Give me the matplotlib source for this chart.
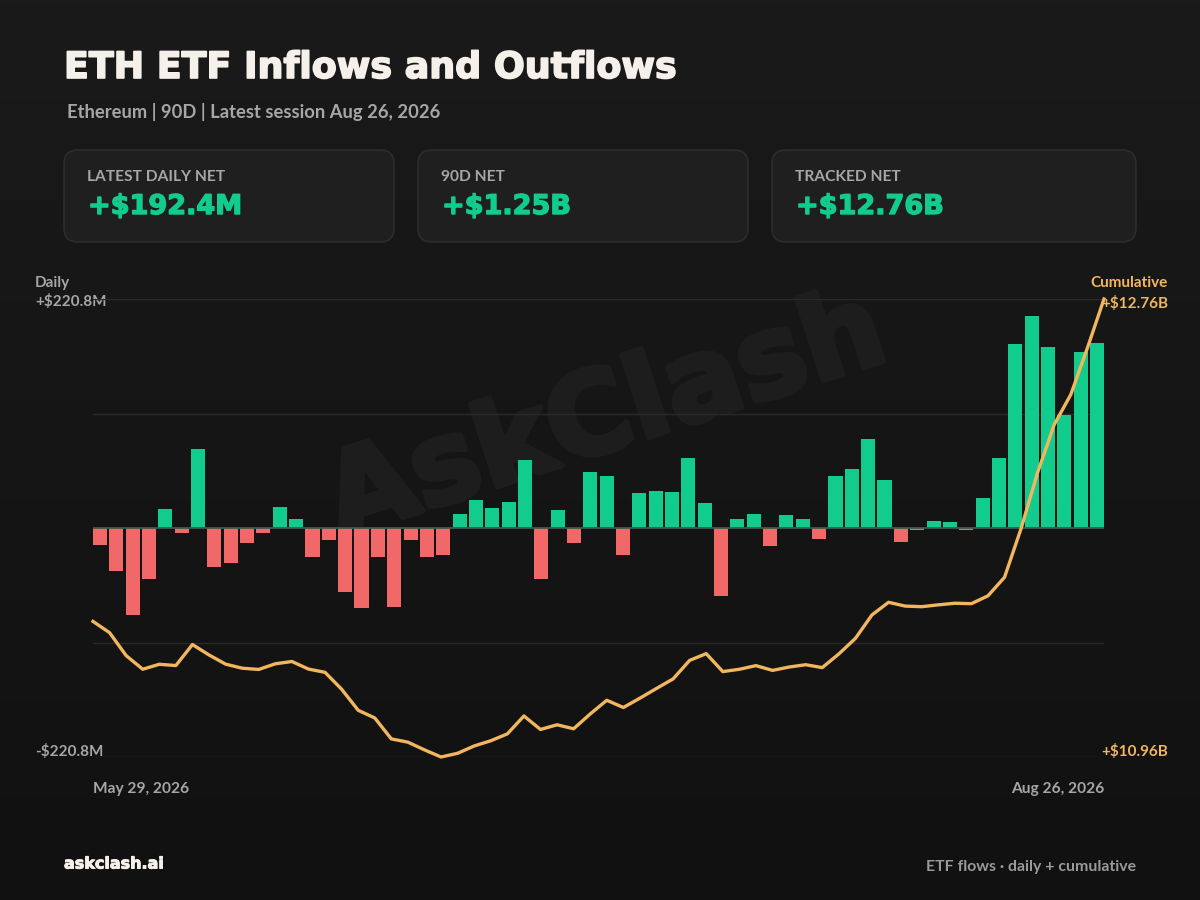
#%%
import numpy as np
import matplotlib
matplotlib.use('Agg')
import matplotlib.pyplot as plt
import matplotlib.patheffects as pe
from matplotlib.patches import FancyBboxPatch
from matplotlib.colors import LinearSegmentedColormap


#%%
#--Data
#daily net flows in $M, oldest session first (May 29 -> Aug 26, 2026)
daily_net = [
    -18.0, -44.3, -90.2, -53.5, 19.4, -4.9, 82.6, -41.0, -36.1, -16.0,
    -4.9, 22.2, 9.1, -29.8, -12.9, -66.3, -82.9, -30.2, -82.3, -12.9,
    -30.2, -28.1, 14.6, 28.8, 20.5, 27.0, 70.5, -53.1, 18.4, -15.7,
    58.3, 53.8, -28.4, 36.7, 38.2, 37.5, 72.9, 26.4, -70.5, 9.1,
    14.3, -18.7, 13.2, 9.1, -11.4, 53.8, 61.1, 92.3, 49.7, -14.9,
    -2.4, 7.2, 6.3, -1.6, 30.9, 73.0, 192.0, 220.8, 188.0, 118.0,
    183.0, 192.4,
]
#tracked net before the first session, $M
cum_start = 11510.1

title = 'ETH ETF Inflows and Outflows'
subtitle = 'Ethereum | 90D | Latest session Aug 26, 2026'
first_date = 'May 29, 2026'
last_date = 'Aug 26, 2026'
card_labels = ['LATEST DAILY NET', '90D NET', 'TRACKED NET']
footer_left = 'askclash.ai'
footer_right = 'ETF flows \u00b7 daily + cumulative'

daily_net = np.array(daily_net)
cumulative = cum_start + np.cumsum(daily_net)
n = len(daily_net)


def fmt_m(v):
    sign = '+' if v >= 0 else '-'
    return '{}${:.1f}M'.format(sign, abs(v))


def fmt_b(v):
    sign = '+' if v >= 0 else '-'
    return '{}${:.2f}B'.format(sign, abs(v) / 1000)


card_values = [fmt_m(daily_net[-1]), fmt_b(daily_net.sum()), fmt_b(cumulative[-1])]


#%%
#--Style
GREEN = '#12cc8e'
RED = '#f16868'
ORANGE = '#f2b65e'
GRAY = '#a6a6a6'
WHITE = '#f5f1ea'
FONT = ['Lato', 'DejaVu Sans']
HEAVY = ['DejaVu Sans']
plt.rcParams['font.family'] = FONT


def thick(color, w=1.1):
    #fake a heavier weight by stroking glyphs in their own colour
    return [pe.withStroke(linewidth=w, foreground=color)]


fig = plt.figure(figsize=(12, 9), dpi=100)

#background canvas in pixel coords
bg = fig.add_axes([0, 0, 1, 1])
grad = np.linspace(0, 1, 256)[:, None]
bg.imshow(grad, cmap=LinearSegmentedColormap.from_list('bg', ['#1a1a1a', '#111111']),
          extent=(0, 1200, 900, 0), aspect='auto', zorder=0)
bg.set_xlim(0, 1200)
bg.set_ylim(900, 0)
bg.axis('off')

#watermark
bg.text(606, 418, 'AskClash', rotation=18, fontsize=82, color='#1d1d1d', family=HEAVY,
        weight='bold', ha='center', va='center', zorder=1, path_effects=thick('#1d1d1d', 4))

#header
bg.text(64, 68, title, fontsize=26.2, weight='bold', family=HEAVY, color=WHITE, va='center',
        ha='left', path_effects=thick(WHITE, 1.2))
bg.text(67, 112, subtitle, fontsize=13.2, weight='bold', color=GRAY, va='center', ha='left')

#cards
card_x = [64, 418, 772]
card_w = [330, 330, 364]
for x0, w, lab, val in zip(card_x, card_w, card_labels, card_values):
    bg.add_patch(FancyBboxPatch((x0, 150), w, 92, boxstyle='round,pad=0,rounding_size=14',
                                fc='#1f1f1f', ec='#2d2d2d', lw=1.2, zorder=2))
    bg.text(x0 + 23, 177, lab, fontsize=11.2, weight='bold', color=GRAY, va='center', zorder=3)
    bg.text(x0 + 24, 207, val, fontsize=19.5, weight='bold', family=HEAVY, color=GREEN,
            va='center', zorder=3, path_effects=thick(GREEN, 1.0))


#%%
#--Daily bars
rect = [93 / 1200, 1 - 757 / 900, (1104 - 93) / 1200, 458 / 900]
ax = fig.add_axes(rect)
ax.set_facecolor('none')
x = np.arange(n)
colors = [GREEN if v >= 0 else RED for v in daily_net]
ax.bar(x, daily_net, width=0.86, color=colors, zorder=3)
lim = np.abs(daily_net).max() * 1.08
ax.set_xlim(-0.43, n - 1 + 0.43)
ax.set_ylim(-lim, lim)
for g in [-lim, -lim / 2, lim / 2, lim]:
    ax.axhline(g, color='#2a2a2a', lw=1, zorder=1)
ax.axhline(0, color='#3e5a50', lw=1.3, zorder=4)
ax.axis('off')

#--Cumulative line
ax2 = fig.add_axes(rect)
ax2.set_facecolor('none')
ax2.plot(np.arange(n), cumulative, color=ORANGE, lw=2.4, solid_joinstyle='round',
         clip_on=False, zorder=5)
ax2.set_xlim(0, n - 1)
ax2.set_ylim(cumulative.min(), cumulative.max())
ax2.axis('off')


#%%
#--Axis labels
absmax = np.abs(daily_net).max()
bg.text(35, 283, 'Daily', fontsize=11, weight='bold', color=GRAY, va='center', zorder=6)
bg.text(35, 302, fmt_m(absmax), fontsize=11, weight='bold', color=GRAY, va='center', zorder=6)
bg.text(35, 751, fmt_m(-absmax), fontsize=11, weight='bold', color=GRAY, va='center', zorder=6)
bg.text(1168, 283, 'Cumulative', fontsize=11, weight='bold', color=ORANGE, va='center', ha='right')
bg.text(1168, 303, fmt_b(cumulative.max()), fontsize=11, weight='bold', color=ORANGE, va='center', ha='right')
bg.text(1168, 752, fmt_b(cumulative.min()), fontsize=11, weight='bold', color=ORANGE, va='center', ha='right')

bg.text(93, 789, first_date, fontsize=11.2, weight='bold', color=GRAY, va='center', ha='left')
bg.text(1104, 789, last_date, fontsize=11.2, weight='bold', color=GRAY, va='center', ha='right')

#--Footer
bg.text(64, 864, footer_left, fontsize=11.5, weight='bold', family=HEAVY, color=WHITE,
        va='center', ha='left', path_effects=thick(WHITE, 0.7))
bg.text(1136, 867, footer_right, fontsize=11.4, weight='bold', color='#9a9a9a', va='center', ha='right')

plt.savefig('out.png', dpi=100, facecolor='#151515')
plt.close()
